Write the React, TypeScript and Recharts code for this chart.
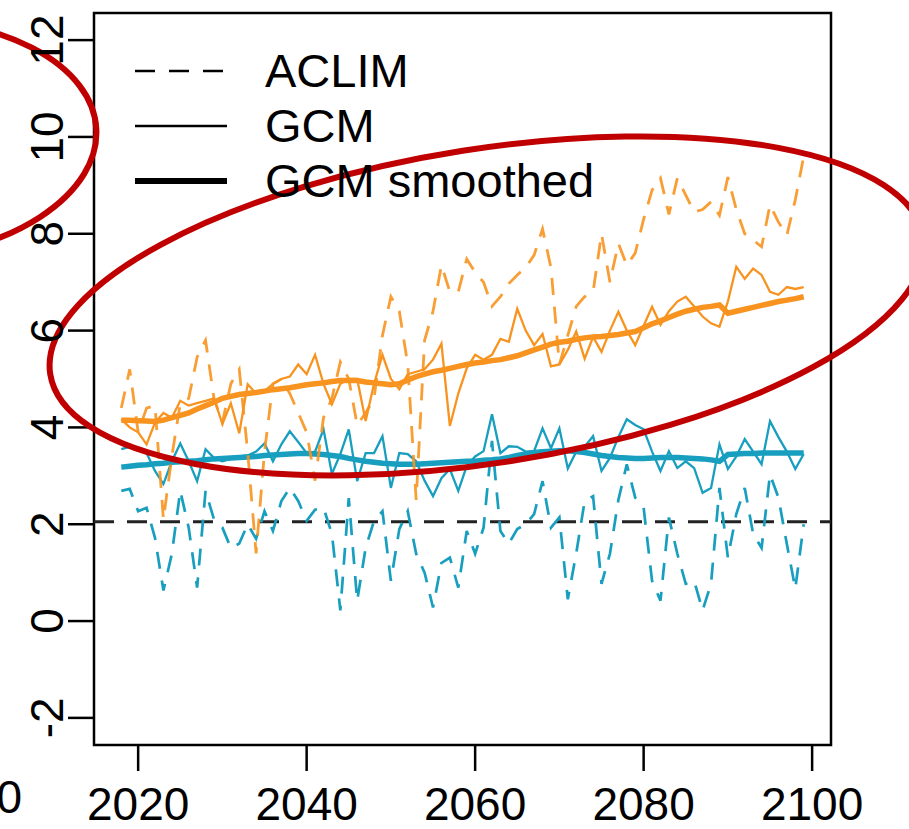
import React from "react";
import {
  LineChart,
  Line,
  XAxis,
  YAxis,
  ReferenceLine,
  ReferenceArea,
  ReferenceDot,
  Legend,
} from "recharts";

// years 2018..2099
const YEARS = [
  2018, 2019, 2020, 2021, 2022, 2023, 2024, 2025, 2026, 2027,
  2028, 2029, 2030, 2031, 2032, 2033, 2034, 2035, 2036, 2037,
  2038, 2039, 2040, 2041, 2042, 2043, 2044, 2045, 2046, 2047,
  2048, 2049, 2050, 2051, 2052, 2053, 2054, 2055, 2056, 2057,
  2058, 2059, 2060, 2061, 2062, 2063, 2064, 2065, 2066, 2067,
  2068, 2069, 2070, 2071, 2072, 2073, 2074, 2075, 2076, 2077,
  2078, 2079, 2080, 2081, 2082, 2083, 2084, 2085, 2086, 2087,
  2088, 2089, 2090, 2091, 2092, 2093, 2094, 2095, 2096, 2097,
  2098, 2099,
];

const ORANGE_GCM = [
  4.17, 4.0, 3.9, 3.65, 4.1, 4.3, 4.2, 4.55, 4.45, 4.5,
  4.55, 4.6, 4.07, 4.5, 3.88, 4.89, 4.7, 4.75, 4.9, 5.0,
  5.05, 5.3, 5.1, 5.5, 4.9, 4.48, 4.9, 5.0, 5.0, 4.13,
  4.9, 5.5, 5.0, 4.79, 5.1, 5.15, 5.2, 5.4, 5.73, 4.03,
  4.7, 5.22, 5.5, 5.4, 5.5, 5.83, 5.77, 6.45, 6.0, 5.7,
  5.93, 5.26, 5.3, 5.6, 5.98, 5.42, 5.87, 5.56, 6.0, 6.39,
  6.0, 5.7, 6.1, 6.49, 6.12, 6.4, 6.6, 6.7, 6.5, 6.29,
  6.15, 6.08, 6.6, 7.32, 7.07, 7.28, 7.15, 6.8, 6.74, 6.9,
  6.86, 6.9,
];

const ORANGE_ACLIM = [
  4.4, 5.2, 3.9, 4.4, 4.45, 2.1, 3.4, 4.5, 4.6, 5.45,
  5.8, 4.6, 4.1, 4.9, 5.2, 3.5, 1.4, 3.5, 4.9, 5.0,
  4.7, 4.3, 3.9, 2.9, 4.2, 4.6, 5.35, 5.0, 4.05, 4.3,
  4.6, 5.9, 6.7, 6.4, 5.3, 2.5, 5.8, 6.4, 7.35, 6.8,
  6.8, 7.48, 7.2, 7.0, 6.5, 6.7, 6.97, 7.15, 7.3, 7.56,
  8.1, 7.3, 5.3, 5.9, 6.5, 6.7, 6.8, 8.0, 7.0, 7.8,
  7.35, 7.6, 8.3, 8.9, 9.15, 8.4, 9.15, 8.8, 8.45, 8.5,
  8.66, 8.38, 9.17, 8.5, 8.0, 7.87, 7.73, 8.6, 8.24, 7.97,
  8.7, 9.6,
];

const ORANGE_SMOOTH = [
  4.15, 4.15, 4.14, 4.13, 4.12, 4.15, 4.2, 4.25, 4.3, 4.38,
  4.45, 4.52, 4.6, 4.64, 4.68, 4.7, 4.72, 4.75, 4.78, 4.8,
  4.82, 4.85, 4.88, 4.9, 4.92, 4.95, 4.97, 4.97, 4.97, 4.94,
  4.92, 4.9, 4.88, 4.9, 4.98, 5.05, 5.1, 5.15, 5.18, 5.22,
  5.26, 5.3, 5.33, 5.35, 5.38, 5.4, 5.44, 5.48, 5.54, 5.6,
  5.66, 5.72, 5.76, 5.78, 5.82, 5.85, 5.87, 5.88, 5.9, 5.92,
  5.95, 5.98, 6.06, 6.14, 6.2, 6.27, 6.34, 6.4, 6.44, 6.48,
  6.5, 6.53, 6.36, 6.4, 6.44, 6.48, 6.52, 6.56, 6.6, 6.63,
  6.66, 6.7,
];

const BLUE_GCM = [
  3.55, 3.6, 3.57, 3.47, 3.1, 2.83, 3.3, 3.67, 3.3, 2.89,
  3.55, 3.37, 3.3, 3.35, 3.4, 3.42, 3.5, 3.67, 3.3, 3.65,
  3.92, 3.7, 3.47, 3.5, 3.96, 3.04, 3.45, 3.96, 2.89, 3.47,
  3.47, 3.82, 2.75, 3.47, 3.45, 3.3, 2.9, 2.58, 2.95, 3.14,
  2.69, 3.2, 3.4, 3.51, 4.27, 3.47, 3.61, 3.6, 3.5, 3.51,
  3.98, 3.57, 3.98, 3.15, 3.5, 3.6, 3.82, 3.1, 3.37, 3.8,
  4.17, 4.05, 3.96, 3.5, 3.1, 3.51, 3.16, 3.3, 3.16, 2.65,
  2.75, 3.65, 3.14, 3.4, 3.76, 3.5, 3.24, 4.13, 3.8, 3.5,
  3.14, 3.45,
];

const BLUE_ACLIM = [
  2.69, 2.73, 2.27, 2.34, 1.72, 0.63, 1.39, 2.69, 1.93, 0.69,
  2.69, 2.1, 1.93, 1.51, 1.6, 2.0, 1.7, 2.27, 1.86, 2.48,
  2.75, 2.48, 2.07, 2.3, 2.34, 1.8, 0.22, 2.54, 0.42, 1.51,
  2.07, 2.27, 0.83, 1.9, 2.27, 1.39, 1.0, 0.28, 1.2, 1.31,
  0.69, 1.86, 1.39, 1.93, 3.72, 1.86, 1.6, 1.9, 2.0, 2.21,
  2.89, 1.93, 2.14, 0.45, 1.4, 2.48, 2.58, 0.77, 1.39, 2.5,
  3.24, 2.55, 2.34, 0.83, 0.42, 2.14, 1.39, 0.77, 0.83, 0.22,
  0.77, 2.75, 1.31, 2.21, 2.75, 1.8, 1.51, 3.03, 2.55, 1.59,
  0.67, 2.0,
];

const BLUE_SMOOTH = [
  3.18, 3.2, 3.22, 3.23, 3.25, 3.26, 3.28, 3.29, 3.3, 3.31,
  3.33, 3.35, 3.36, 3.37, 3.38, 3.39, 3.4, 3.42, 3.43, 3.44,
  3.45, 3.46, 3.46, 3.45, 3.44, 3.42, 3.4, 3.36, 3.33, 3.3,
  3.28, 3.26, 3.25, 3.24, 3.24, 3.24, 3.25, 3.26, 3.27, 3.28,
  3.29, 3.3, 3.3, 3.32, 3.33, 3.35, 3.38, 3.42, 3.45, 3.48,
  3.5, 3.51, 3.52, 3.52, 3.5, 3.48, 3.45, 3.42, 3.4, 3.38,
  3.37, 3.36, 3.36, 3.37, 3.38, 3.38, 3.38, 3.37, 3.36, 3.35,
  3.33, 3.3, 3.44, 3.45, 3.46, 3.46, 3.47, 3.47, 3.47, 3.47,
  3.47, 3.47,
];

const X_TICKS = [2020, 2040, 2060, 2080, 2100];
const Y_TICKS = [-2, 0, 2, 4, 6, 8, 10, 12];
const X_DOMAIN: [number, number] = [2014.76, 2102.24];
const Y_DOMAIN: [number, number] = [-2.56, 12.56];
const THRESHOLD = 2.05;

const LEGEND_ITEMS = [
  { label: "ACLIM", width: 2.5, dash: "20 14" },
  { label: "GCM", width: 2.5, dash: undefined },
  { label: "GCM smoothed", width: 6, dash: undefined },
];

const ORANGE = "#F7931E";
const BLUE = "#189EBF";
const RED = "#C00000";
const FONT = '"Liberation Sans", Arial, Helvetica, sans-serif';
const DASH = "17 12";

const data = YEARS.map((year, i) => ({
  year,
  oGcm: ORANGE_GCM[i],
  oAclim: ORANGE_ACLIM[i],
  oSmooth: ORANGE_SMOOTH[i],
  bGcm: BLUE_GCM[i],
  bAclim: BLUE_ACLIM[i],
  bSmooth: BLUE_SMOOTH[i],
}));

const XTick = ({ x, y, payload }: any) => (
  <text x={x} y={y} dy={47} textAnchor="middle" fontSize={46} fontFamily={FONT} fill="#000">
    {payload.value}
  </text>
);

const YTick = ({ x, y, payload }: any) => (
  <text
    x={x}
    y={y}
    dy={-3}
    transform={`rotate(-90 ${x} ${y})`}
    textAnchor="middle"
    fontSize={46}
    fontFamily={FONT}
    fill="#000"
  >
    {payload.value}
  </text>
);

// hand-drawn red ellipses (annotations), placed in data coordinates
const ellipseShape = (rx: number, ry: number, angle: number) => (props: any) => (
  <ellipse
    cx={props.cx}
    cy={props.cy}
    rx={rx}
    ry={ry}
    transform={`rotate(${angle} ${props.cx} ${props.cy})`}
    fill="none"
    stroke={RED}
    strokeWidth={6}
  />
);

const LegendBox = () => (
  <div style={{ fontFamily: FONT, fontSize: 47, color: "#000" }}>
    {LEGEND_ITEMS.map((item) => (
      <div key={item.label} style={{ display: "flex", alignItems: "center", height: 55, lineHeight: "55px" }}>
        <svg width={92} height={10} style={{ display: "block" }}>
          <line x1={0} y1={5} x2={92} y2={5} stroke="#000" strokeWidth={item.width} strokeDasharray={item.dash} />
        </svg>
        <span style={{ marginLeft: 38, whiteSpace: "nowrap" }}>{item.label}</span>
      </div>
    ))}
  </div>
);

export default function App() {
  return (
    <div style={{ position: "absolute", left: 0, top: 0, width: 909, height: 829, overflow: "hidden", background: "#fff" }}>
      <LineChart width={909} height={829} data={data} margin={{ top: 13, right: 78, bottom: 0, left: 0 }}>
        <XAxis
          dataKey="year"
          type="number"
          domain={X_DOMAIN}
          ticks={X_TICKS}
          allowDataOverflow
          height={84}
          axisLine={false}
          tickSize={26}
          tickLine={{ stroke: "#000", strokeWidth: 2.5 }}
          tick={<XTick />}
          interval={0}
        />
        <YAxis
          type="number"
          domain={Y_DOMAIN}
          ticks={Y_TICKS}
          allowDataOverflow
          width={94}
          axisLine={false}
          tickSize={26}
          tickLine={{ stroke: "#000", strokeWidth: 2.5 }}
          tick={<YTick />}
          interval={0}
        />
        <ReferenceArea
          x1={X_DOMAIN[0]}
          x2={X_DOMAIN[1]}
          y1={Y_DOMAIN[0]}
          y2={Y_DOMAIN[1]}
          fill="none"
          fillOpacity={0}
          stroke="#000"
          strokeWidth={2.5}
          ifOverflow="visible"
        />
        <ReferenceLine y={THRESHOLD} stroke="#222" strokeWidth={3} strokeDasharray="20 13" />

        <Line dataKey="bAclim" stroke={BLUE} strokeWidth={2.7} strokeDasharray={DASH} dot={false} isAnimationActive={false} />
        <Line dataKey="bGcm" stroke={BLUE} strokeWidth={2.3} dot={false} isAnimationActive={false} />
        <Line dataKey="bSmooth" stroke={BLUE} strokeWidth={5.5} dot={false} isAnimationActive={false} />
        <Line dataKey="oAclim" stroke={ORANGE} strokeWidth={2.8} strokeDasharray={DASH} strokeOpacity={0.9} dot={false} isAnimationActive={false} />
        <Line dataKey="oGcm" stroke={ORANGE} strokeWidth={2.3} dot={false} isAnimationActive={false} />
        <Line dataKey="oSmooth" stroke={ORANGE} strokeWidth={5.5} dot={false} isAnimationActive={false} />

        <ReferenceDot x={2061.4} y={6.51} ifOverflow="visible" shape={ellipseShape(442, 157, -8.9)} />
        <ReferenceDot x={1990.5} y={9.94} ifOverflow="visible" shape={ellipseShape(207, 120, -3)} />

        <Legend
          layout="vertical"
          align="center"
          verticalAlign="middle"
          wrapperStyle={{ left: 135, top: 43, width: 520 }}
          content={() => <LegendBox />}
        />
      </LineChart>
      {/* edge of the neighbouring panel's axis label */}
      <div
        style={{
          position: "absolute",
          right: 887,
          top: 770,
          fontFamily: FONT,
          fontSize: 46,
          lineHeight: "55px",
          whiteSpace: "nowrap",
        }}
      >
        2100
      </div>
    </div>
  );
}
